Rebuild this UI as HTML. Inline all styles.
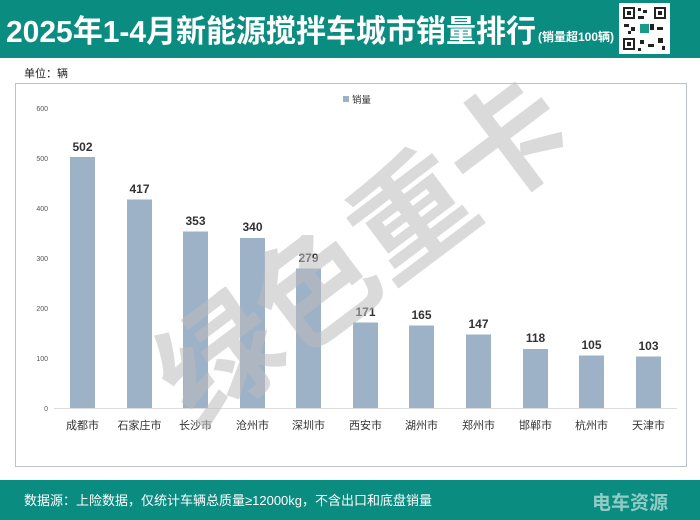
<!DOCTYPE html>
<html><head><meta charset="utf-8"><style>
body{margin:0;width:700px;height:520px;background:#fff;position:relative;overflow:hidden;font-family:"Liberation Sans","Noto Sans CJK SC",sans-serif}
</style></head><body>
<svg width="700" height="520" xmlns="http://www.w3.org/2000/svg" style="position:absolute;left:0;top:0">
<rect x="0" y="0" width="700" height="58" fill="#0b8c80"/>
<text x="6" y="42" font-family="Liberation Sans,Noto Sans CJK SC,sans-serif" font-weight="bold" font-size="31" fill="#fff" textLength="530" lengthAdjust="spacingAndGlyphs">2025年1-4月新能源搅拌车城市销量排行</text>
<text x="538" y="41" font-family="Liberation Sans,Noto Sans CJK SC,sans-serif" font-weight="bold" font-size="12" fill="#fff">(销量超100辆)</text>
<rect x="619" y="3" width="51" height="51" fill="#fff"/>
<g fill="#222">
<rect x="623" y="7" width="12" height="12"/><rect x="625" y="9" width="8" height="8" fill="#fff"/><rect x="627" y="11" width="4" height="4"/>
<rect x="654" y="7" width="12" height="12"/><rect x="656" y="9" width="8" height="8" fill="#fff"/><rect x="658" y="11" width="4" height="4"/>
<rect x="623" y="38" width="12" height="12"/><rect x="625" y="40" width="8" height="8" fill="#fff"/><rect x="627" y="42" width="4" height="4"/>
<rect x="638" y="8" width="3" height="3"/><rect x="643" y="10" width="4" height="3"/><rect x="638" y="16" width="6" height="3"/><rect x="624" y="24" width="5" height="3"/><rect x="631" y="27" width="4" height="4"/><rect x="650" y="24" width="4" height="6"/><rect x="657" y="27" width="6" height="3"/><rect x="640" y="40" width="4" height="4"/><rect x="648" y="44" width="6" height="3"/><rect x="658" y="38" width="5" height="5"/><rect x="638" y="48" width="3" height="3"/><rect x="662" y="46" width="3" height="4"/><rect x="628" y="31" width="3" height="3"/>
</g>
<rect x="640" y="24" width="9" height="9" fill="#1a9a8a"/>
<text x="24" y="77" font-size="11" fill="#222">单位：辆</text>
<rect x="15.5" y="83.5" width="671" height="383" fill="#fff" stroke="#b9c3cc"/>
<rect x="343" y="96" width="6" height="6" fill="#9eb2c7"/>
<text x="352" y="103" font-size="9.5" fill="#333">销量</text>
<g font-size="7" fill="#555" text-anchor="end">
<text x="48" y="111">600</text><text x="48" y="161">500</text><text x="48" y="211">400</text><text x="48" y="261">300</text><text x="48" y="311">200</text><text x="48" y="361">100</text><text x="48" y="411">0</text>
</g>
<line x1="54" y1="408.5" x2="677" y2="408.5" stroke="#ddd"/>
<g fill="#9eb2c7">
<rect x="70" y="157" width="25" height="251"/>
<rect x="127" y="199.5" width="25" height="208.5"/>
<rect x="183" y="231.5" width="25" height="176.5"/>
<rect x="240" y="238" width="25" height="170"/>
<rect x="296" y="268.5" width="25" height="139.5"/>
<rect x="353" y="322.5" width="25" height="85.5"/>
<rect x="409" y="325.5" width="25" height="82.5"/>
<rect x="466" y="334.5" width="25" height="73.5"/>
<rect x="523" y="349" width="25" height="59"/>
<rect x="579" y="355.5" width="25" height="52.5"/>
<rect x="636" y="356.5" width="25" height="51.5"/>
</g>
<g font-size="12" font-weight="bold" fill="#333" text-anchor="middle">
<text x="82.5" y="151">502</text><text x="139.5" y="193">417</text><text x="195.5" y="225">353</text><text x="252.5" y="231">340</text><text x="308.5" y="262">279</text><text x="365.5" y="316">171</text><text x="421.5" y="319">165</text><text x="478.5" y="328">147</text><text x="535.5" y="342">118</text><text x="591.5" y="349">105</text><text x="648.5" y="350">103</text>
</g>
<g font-size="11" fill="#333" text-anchor="middle">
<text x="82.5" y="429">成都市</text><text x="139.5" y="429">石家庄市</text><text x="195.5" y="429">长沙市</text><text x="252.5" y="429">沧州市</text><text x="308.5" y="429">深圳市</text><text x="365.5" y="429">西安市</text><text x="421.5" y="429">湖州市</text><text x="478.5" y="429">郑州市</text><text x="535.5" y="429">邯郸市</text><text x="591.5" y="429">杭州市</text><text x="648.5" y="429">天津市</text>
</g>
<text x="0" y="0" transform="translate(370,260) rotate(-37)" text-anchor="middle" dominant-baseline="middle" font-size="120" font-weight="bold" fill="#bbb" fill-opacity="0.55" font-family="Noto Sans CJK SC,sans-serif">绿色重卡</text>
<rect x="0" y="480" width="700" height="40" fill="#0b8c80"/>
<text x="24" y="505" font-size="13" fill="#fff">数据源：上险数据，仅统计车辆总质量≥12000kg，不含出口和底盘销量</text>
<text x="592" y="509" font-size="19" font-weight="bold" fill="#fff" fill-opacity="0.55">电车资源</text>
</svg>
</body></html>
